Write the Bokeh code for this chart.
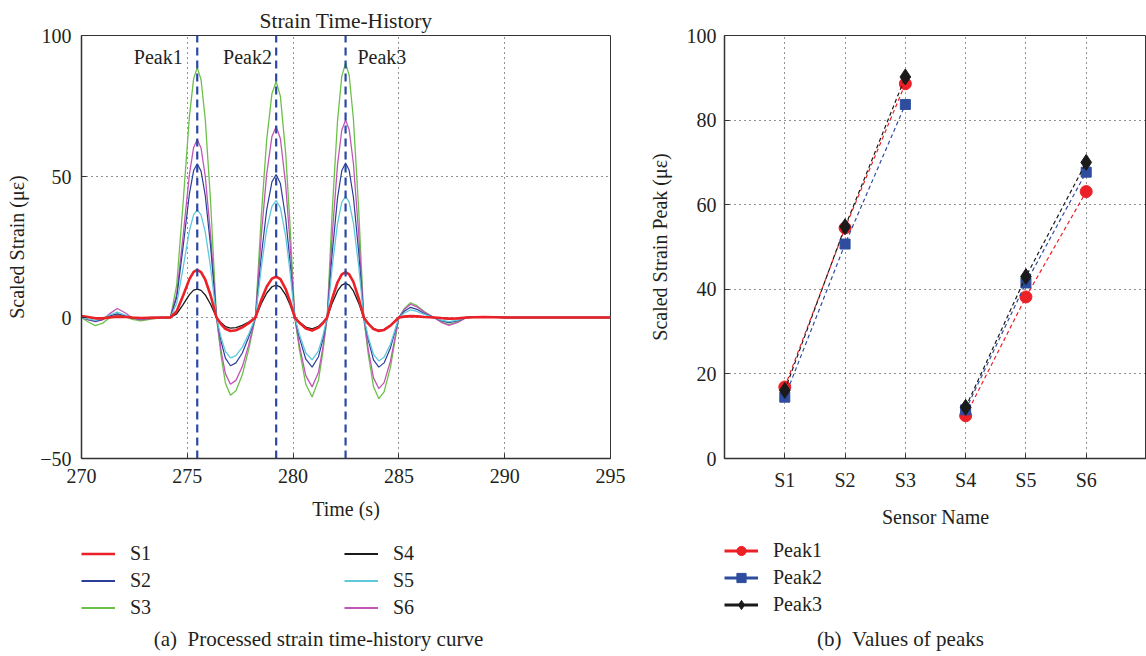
from bokeh.plotting import figure
from bokeh.models import Range1d, FixedTicker, Legend, LegendItem, Label
from bokeh.layouts import row, column
from bokeh.embed import file_html
from bokeh.resources import INLINE

# ---------------- data: strain time-history ----------------
time_s = [270.0, 270.3, 270.66, 271.0, 271.3, 271.69, 272.1, 272.4, 272.8, 273.3, 273.8, 274.2,
          274.5, 274.8, 275.1, 275.3, 275.47, 275.65, 275.85, 276.1, 276.38,
          276.6, 276.8, 277.04, 277.3, 277.6, 277.9, 278.22,
          278.5, 278.75, 279.0, 279.2, 279.4, 279.65, 279.85, 280.08,
          280.3, 280.6, 280.9, 281.2, 281.4, 281.61,
          281.85, 282.1, 282.3, 282.48, 282.65, 282.85, 283.1, 283.34,
          283.55, 283.8, 284.05, 284.3, 284.6, 285.0,
          285.25, 285.55, 285.85, 286.2, 286.65,
          287.0, 287.36, 287.8, 288.2, 289.0, 290.0, 295.0]

s1 = [0.5, 0.2, -0.3, -0.3, 0.0, 0.3, 0.2, 0.0, -0.2, -0.1, 0.0, 0.0,
      2.2, 7.7, 13.6, 16.2, 16.9, 16.1, 13.4, 7.9, 0.0,
      -2.4, -4.0, -4.8, -4.5, -3.5, -2.0, 0.0,
      6.3, 10.9, 13.8, 14.5, 13.6, 10.1, 5.8, 0.0,
      -1.9, -3.9, -4.6, -3.6, -2.1, 0.0,
      6.8, 12.5, 15.3, 16.1, 15.3, 12.6, 6.8, 0.0,
      -2.2, -4.1, -4.8, -4.4, -2.9, 0.0,
      0.3, 0.5, 0.4, 0.2, 0.0,
      -0.2, -0.4, -0.3, 0.0, 0.2, 0.0, 0.0]
s2 = [0.0, -0.7, -1.3, -0.7, 0.5, 1.3, 0.5, -0.2, -0.6, -0.3, 0.0, 0.0,
      7.1, 24.9, 43.9, 52.1, 54.5, 51.9, 43.2, 25.3, 0.0,
      -8.6, -14.4, -17.1, -16.1, -12.6, -7.0, 0.0,
      22.0, 38.1, 48.1, 50.7, 47.5, 35.2, 20.2, 0.0,
      -7.2, -14.8, -17.6, -13.9, -7.9, 0.0,
      23.0, 42.4, 52.0, 54.8, 52.2, 42.7, 23.2, 0.0,
      -7.9, -15.0, -17.6, -16.1, -10.8, 0.0,
      2.2, 3.6, 2.9, 1.4, 0.0,
      -1.1, -1.8, -1.1, 0.0, 0.2, 0.0, 0.0]
s3 = [0.0, -1.5, -2.9, -2.0, -0.3, 1.0, 0.2, -0.7, -1.2, -0.6, -0.1, 0.0,
      11.6, 40.5, 71.3, 84.7, 88.6, 84.3, 70.2, 41.2, 0.0,
      -13.8, -23.2, -27.6, -26.0, -20.3, -11.4, 0.0,
      36.3, 62.9, 79.4, 83.7, 78.4, 58.2, 33.4, 0.0,
      -11.5, -23.7, -28.2, -22.2, -12.6, 0.0,
      37.9, 69.8, 85.5, 90.2, 85.9, 70.4, 38.2, 0.0,
      -12.9, -24.5, -28.8, -26.4, -17.7, 0.0,
      3.1, 5.2, 4.2, 2.1, 0.0,
      -1.5, -2.5, -1.5, 0.0, 0.3, 0.0, 0.0]
s4 = [0.3, 0.1, -0.2, -0.2, 0.1, 0.4, 0.2, 0.0, -0.1, 0.0, 0.0, 0.0,
      1.3, 4.6, 8.1, 9.7, 10.1, 9.6, 8.0, 4.7, 0.0,
      -1.9, -3.2, -3.8, -3.6, -2.8, -1.6, 0.0,
      5.0, 8.6, 10.9, 11.5, 10.8, 8.0, 4.6, 0.0,
      -1.6, -3.4, -4.0, -3.1, -1.8, 0.0,
      5.1, 9.4, 11.5, 12.1, 11.5, 9.4, 5.1, 0.0,
      -2.1, -3.9, -4.6, -4.2, -2.8, 0.0,
      0.4, 0.6, 0.5, 0.2, 0.0,
      -0.3, -0.5, -0.3, 0.0, 0.2, 0.0, 0.0]
s5 = [0.0, -0.5, -1.0, -0.4, 0.8, 1.9, 0.8, -0.1, -0.5, -0.3, 0.0, 0.0,
      5.0, 17.5, 30.8, 36.5, 38.2, 36.4, 30.3, 17.8, 0.0,
      -7.2, -12.0, -14.3, -13.5, -10.5, -5.9, 0.0,
      18.0, 31.2, 39.4, 41.5, 38.9, 28.8, 16.6, 0.0,
      -6.1, -12.6, -15.0, -11.8, -6.7, 0.0,
      18.1, 33.3, 40.8, 43.0, 40.9, 33.5, 18.2, 0.0,
      -6.9, -13.1, -15.4, -14.1, -9.5, 0.0,
      1.6, 2.7, 2.2, 1.1, 0.0,
      -0.9, -1.5, -0.9, 0.0, 0.2, 0.0, 0.0]
s6 = [0.0, -0.8, -1.5, -0.8, 1.2, 3.2, 1.5, -0.2, -0.8, -0.4, -0.1, 0.0,
      8.3, 28.8, 50.8, 60.3, 63.1, 60.1, 50.0, 29.3, 0.0,
      -11.9, -19.9, -23.7, -22.3, -17.4, -9.8, 0.0,
      29.4, 50.8, 64.2, 67.7, 63.4, 47.1, 27.0, 0.0,
      -10.1, -20.6, -24.6, -19.4, -11.0, 0.0,
      29.4, 54.2, 66.4, 70.0, 66.6, 54.6, 29.6, 0.0,
      -11.3, -21.4, -25.2, -23.1, -15.5, 0.0,
      2.8, 4.7, 3.8, 1.9, 0.0,
      -1.7, -2.8, -1.7, 0.0, 0.3, 0.0, 0.0]

peak_times = [275.47, 279.2, 282.48]
peak_names = ["Peak1", "Peak2", "Peak3"]

# ---------------- data: peak values ----------------
sensors = ["S1", "S2", "S3", "S4", "S5", "S6"]
peak1 = [16.9, 54.5, 88.6, 10.1, 38.2, 63.1]
peak2 = [14.5, 50.7, 83.7, 11.5, 41.5, 67.7]
peak3 = [16.1, 54.8, 90.2, 12.1, 43.0, 70.0]

FONT = "Liberation Serif"
TXT = "#231f20"
GRID = dict(grid_line_color="#222222", grid_line_dash="1 4", grid_line_width=1)

TOP_H = 530
BOT_H = 126
W1 = 645
W2 = 501
# off-canvas anchor for legend proxy renderers (never visible)
OFF = [-50, -40]


def style_axes(p):
    for ax in (p.xaxis[0], p.yaxis[0]):
        ax.axis_line_color = "#333333"
        ax.axis_line_width = 1.5
        ax.major_tick_line_color = "#333333"
        ax.major_tick_in = 5
        ax.major_tick_out = 0
        ax.minor_tick_line_color = None
        ax.major_label_text_font = FONT
        ax.major_label_text_font_size = "20px"
        ax.major_label_text_color = TXT
        ax.axis_label_text_font = FONT
        ax.axis_label_text_font_size = "20px"
        ax.axis_label_text_font_style = "normal"
        ax.axis_label_text_color = TXT
    p.xaxis.major_label_standoff = 10
    p.xaxis.axis_label_standoff = 12
    p.outline_line_color = "#333333"
    p.outline_line_width = 1
    p.outline_line_alpha = 1
    for g in (p.xgrid[0], p.ygrid[0]):
        for k, v in GRID.items():
            setattr(g, k, v)


def blank(width):
    q = figure(width=width, height=BOT_H, output_backend="svg", toolbar_location=None,
               x_range=Range1d(0, width), y_range=Range1d(BOT_H, 0),
               x_axis_type=None, y_axis_type=None, min_border=0,
               outline_line_color=None, background_fill_color="white",
               border_fill_color="white")
    q.grid.visible = False
    return q


leg_kw = dict(glyph_width=34, glyph_height=23, label_height=23, label_standoff=15,
              spacing=4, padding=0, margin=0, border_line_color=None,
              background_fill_alpha=0, label_text_font=FONT, label_text_font_size="20px",
              label_text_color=TXT)

# ---------------- left figure ----------------
p1 = figure(width=W1, height=TOP_H, output_backend="svg", toolbar_location=None,
            x_range=Range1d(270, 295), y_range=Range1d(-50, 100),
            min_border_left=81, min_border_right=35, min_border_top=35, min_border_bottom=71,
            background_fill_color="white", border_fill_color="white")
p1.title.text = "Strain Time-History"
p1.title.align = "center"
p1.title.text_font = FONT
p1.title.text_font_size = "21.5px"
p1.title.text_font_style = "normal"
p1.title.text_color = TXT
p1.title.standoff = 5
p1.xaxis.ticker = FixedTicker(ticks=[270, 275, 280, 285, 290, 295])
p1.yaxis.ticker = FixedTicker(ticks=[-50, 0, 50, 100])
p1.xaxis.axis_label = "Time (s)"
p1.yaxis.axis_label = "Scaled Strain (με)"
style_axes(p1)
p1.yaxis.major_label_standoff = 10
p1.yaxis.axis_label_standoff = 9

series = {
    "S1": (s1, "#ec2027", 2.6),
    "S2": (s2, "#2c3f98", 1.2),
    "S3": (s3, "#6cc04a", 1.3),
    "S4": (s4, "#1a1a1a", 1.3),
    "S5": (s5, "#5fc8da", 1.3),
    "S6": (s6, "#c156b6", 1.3),
}
for name in ["S3", "S6", "S2", "S5", "S4", "S1"]:
    ys, col, lw = series[name]
    p1.line(time_s, ys, line_color=col, line_width=lw)

for t in peak_times:
    p1.line([t, t], [-50, 100], line_color="#2a47a3", line_width=2.2, line_dash="8 5")

lab_x = [274.78, 279.0, 283.04]
lab_align = ["right", "right", "left"]
for name, x, al in zip(peak_names, lab_x, lab_align):
    p1.add_layout(Label(x=x, y=92.5, text=name, text_align=al, text_baseline="middle",
                        text_font=FONT, text_font_size="20px", text_color=TXT))

# legend + caption area under left figure
q1 = blank(W1)
proxies = {}
for name, (ys, col, lw) in series.items():
    proxies[name] = q1.line(OFF, OFF, line_color=col, line_width=max(lw, 1.8))
legA = Legend(items=[LegendItem(label=n, renderers=[proxies[n]]) for n in ["S1", "S2", "S3"]],
              location=(81, 37), **leg_kw)
legB = Legend(items=[LegendItem(label=n, renderers=[proxies[n]]) for n in ["S4", "S5", "S6"]],
              location=(344, 37), **leg_kw)
q1.add_layout(legA)
q1.add_layout(legB)
q1.add_layout(Label(x=318, y=108, text="(a)\u00a0\u00a0Processed strain time-history curve",
                    text_align="center", text_baseline="middle", text_font=FONT,
                    text_font_size="21px", text_color=TXT))

# ---------------- right figure ----------------
p2 = figure(width=W2, height=TOP_H, output_backend="svg", toolbar_location=None,
            x_range=Range1d(0, 7), y_range=Range1d(0, 100),
            min_border_left=78, min_border_right=0, min_border_top=34, min_border_bottom=72,
            background_fill_color="white", border_fill_color="white")
xs = list(range(1, len(sensors) + 1))
p2.xaxis.ticker = FixedTicker(ticks=xs)
p2.xaxis.major_label_overrides = {x: s for x, s in zip(xs, sensors)}
p2.yaxis.ticker = FixedTicker(ticks=[0, 20, 40, 60, 80, 100])
p2.xaxis.axis_label = "Sensor Name"
p2.yaxis.axis_label = "Scaled Strain Peak (με)"
style_axes(p2)
p2.yaxis.major_label_standoff = 8
p2.yaxis.axis_label_standoff = 13

peak_series = [
    ("Peak1", peak1, "#ec2027", "circle", 12),
    ("Peak2", peak2, "#2f4d9f", "square", 10),
    ("Peak3", peak3, "#1a1a1a", "diamond", 16),
]
q2 = blank(W2)
leg_items = []
for name, vals, col, mk, sz in peak_series:
    for a, b in ((0, 3), (3, 6)):
        p2.line(xs[a:b], vals[a:b], line_color=col, line_width=1.2, line_dash="4 3")
    p2.scatter(xs, vals, marker=mk, size=sz, fill_color=col, line_color=col)
    pl = q2.line(OFF, OFF, line_color=col, line_width=2.8)
    ps = q2.scatter(OFF, OFF, marker=mk, size=sz - 1, fill_color=col, line_color=col)
    leg_items.append(LegendItem(label=name, renderers=[pl, ps]))

legR = Legend(items=leg_items, location=(79, 40), **leg_kw)
q2.add_layout(legR)
q2.add_layout(Label(x=255, y=108, text="(b)\u00a0\u00a0Values of peaks",
                    text_align="center", text_baseline="middle", text_font=FONT,
                    text_font_size="21px", text_color=TXT))

layout = column(row(p1, p2), row(q1, q2))
open("out.html", "w").write(file_html(layout, INLINE))
